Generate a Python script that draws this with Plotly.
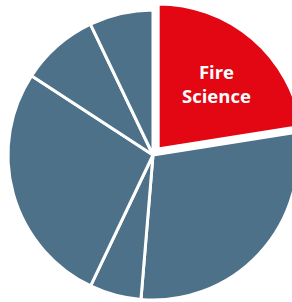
import plotly.graph_objects as go

labels = ["Fire Science", "Category B", "Category C", "Category D", "Category E", "Category F"]
values = [22.5, 28.8, 5.75, 27.1, 8.7, 7.1]
colors = ["#E30613", "#4D7189", "#4D7189", "#4D7189", "#4D7189", "#4D7189"]
pulls = [0.055, 0, 0, 0, 0, 0]
highlight_label = "Fire<br>Science"

fig = go.Figure(
    go.Pie(
        labels=labels,
        values=values,
        textinfo="none",
        marker=dict(colors=colors, line=dict(color="white", width=3)),
        pull=pulls,
        sort=False,
        direction="clockwise",
        rotation=0,
        hoverinfo="label+percent",
        showlegend=False,
    )
)

fig.add_annotation(
    x=0.708, y=0.733, xref="paper", yref="paper",
    xanchor="center", yanchor="middle",
    text="<b>" + highlight_label + "</b>", showarrow=False,
    font=dict(family="Open Sans", size=18.5, color="white"),
)

fig.update_layout(
    width=306,
    height=310,
    margin=dict(l=0, r=0, t=2, b=2),
    paper_bgcolor="white",
    plot_bgcolor="white",
    showlegend=False,
)

fig.write_html(
    "out.html",
    config={"displayModeBar": False},
    post_script="document.body.style.margin='0';document.body.style.overflow='hidden';document.documentElement.style.overflow='hidden';",
)
